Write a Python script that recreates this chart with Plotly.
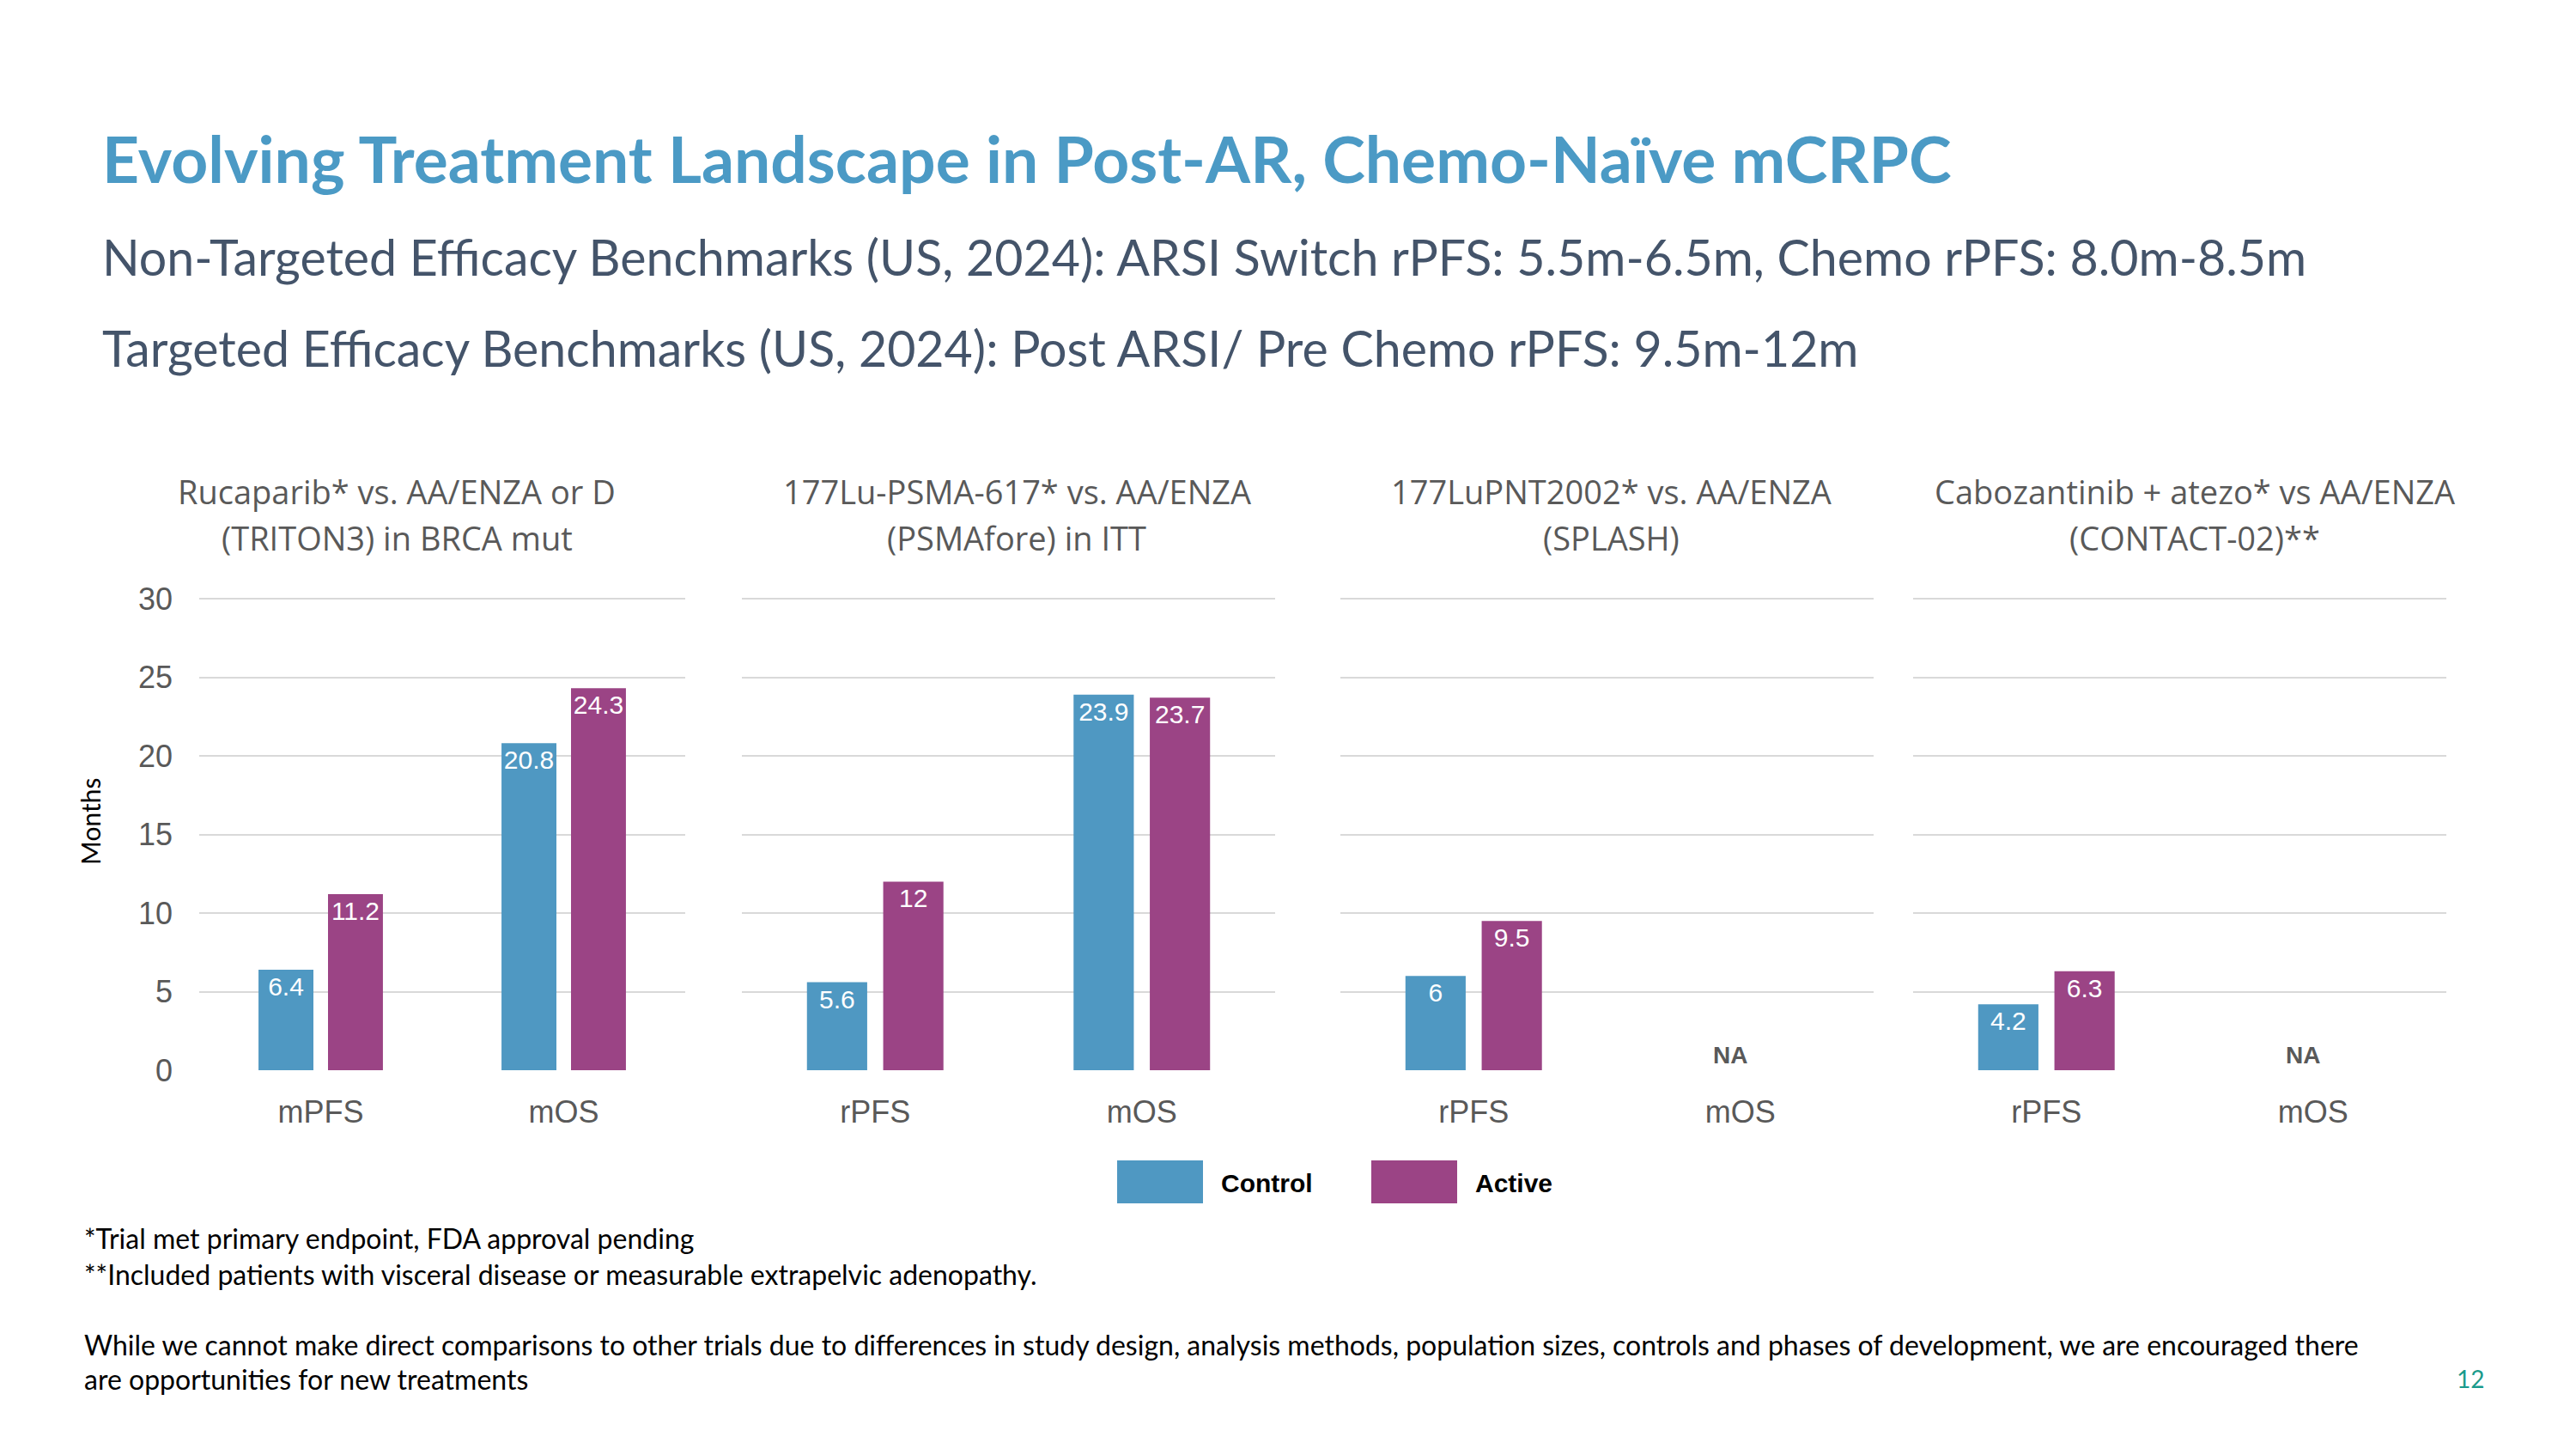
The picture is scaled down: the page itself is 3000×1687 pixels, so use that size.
import plotly.graph_objects as go

W, H = 3000, 1687

# ---------------- data ----------------
categories = [["mPFS", "mOS"], ["rPFS", "mOS"], ["rPFS", "mOS"], ["rPFS", "mOS"]]
control_values = [[6.4, 20.8], [5.6, 23.9], [6, None], [4.2, None]]
active_values = [[11.2, 24.3], [12, 23.7], [9.5, None], [6.3, None]]
panel_titles = [
    ("Rucaparib* vs. AA/ENZA or D", "(TRITON3) in BRCA mut"),
    ("177Lu-PSMA-617* vs. AA/ENZA", "(PSMAfore) in ITT"),
    ("177LuPNT2002* vs. AA/ENZA", "(SPLASH)"),
    ("Cabozantinib + atezo* vs AA/ENZA", "(CONTACT-02)**"),
]
series_names = ["Control", "Active"]
y_ticks = [0, 5, 10, 15, 20, 25, 30]
missing_label = "NA"

title = "Evolving Treatment Landscape in Post-AR, Chemo-Naïve mCRPC"
subtitle1 = "Non-Targeted Efficacy Benchmarks (US, 2024): ARSI Switch rPFS: 5.5m-6.5m, Chemo rPFS: 8.0m-8.5m"
subtitle2 = "Targeted Efficacy Benchmarks (US, 2024): Post ARSI/ Pre Chemo rPFS: 9.5m-12m"
footnotes = [
    "*Trial met primary endpoint, FDA approval pending",
    "**Included patients with visceral disease or measurable extrapelvic adenopathy.",
]
disclaimer = [
    "While we cannot make direct comparisons to other trials due to differences in study design, analysis methods, population sizes, controls and phases of development, we are encouraged there",
    "are opportunities for new treatments",
]
page_number = "12"

# ---------------- style ----------------
BLUE = "#4F98C2"
PURPLE = "#9B4485"
GRID = "#D9D9D9"
GRAY = "#595959"
TITLE_BLUE = "#4B9AC5"
SLATE = "#44546A"
TEAL = "#1A9A8C"
ARIAL = "Liberation Sans, Arial, sans-serif"
CALIBRI = "Lato, Carlito, Calibri, sans-serif"
SEGOE = "Open Sans, Segoe UI, sans-serif"


def px(x):
    return x / W


def py(y):
    return 1 - y / H


panel_x = [(232, 798), (864, 1485), (1561, 2182), (2228, 2849)]
title_cx = [462, 1184, 1876, 2556]
Y_TOP_VAL = 30.1
y0_px, y30_px = 1246, 697
ytop_px = y0_px - Y_TOP_VAL * (y0_px - y30_px) / 30
y_dom = [py(y0_px), py(ytop_px)]


def fmt(v):
    return "" if v is None else f"{v:g}"


fig = go.Figure()
annotations = []
layout_axes = {}

for i in range(4):
    sfx = "" if i == 0 else str(i + 1)
    xa, ya = "x" + sfx, "y" + sfx
    for name, vals, col in [(series_names[0], control_values[i], BLUE),
                            (series_names[1], active_values[i], PURPLE)]:
        fig.add_trace(go.Bar(
            x=categories[i], y=vals, name=name, xaxis=xa, yaxis=ya,
            marker=dict(color=col, line=dict(width=0)),
            text=[fmt(v) for v in vals], textposition="inside", textangle=0,
            insidetextanchor="end", constraintext="none",
            textfont=dict(family=ARIAL, size=30, color="white"),
            showlegend=False, hoverinfo="skip",
        ))
    layout_axes["xaxis" + sfx] = dict(
        domain=[px(panel_x[i][0]), px(panel_x[i][1])], anchor=ya,
        type="category", showgrid=False, showline=False, zeroline=False,
        ticks="", ticklabelstandoff=24, automargin=False,
        tickfont=dict(family=ARIAL, size=36, color=GRAY),
    )
    layout_axes["yaxis" + sfx] = dict(
        domain=y_dom, anchor=xa, range=[0, Y_TOP_VAL], tickvals=y_ticks,
        showgrid=True, gridcolor=GRID, gridwidth=2, zeroline=False,
        showline=False, ticks="", showticklabels=(i == 0),
        ticklabelstandoff=30, automargin=False,
        tickfont=dict(family=ARIAL, size=36, color=GRAY),
    )
    # panel titles
    for line, yy in zip(panel_titles[i], (572, 626)):
        annotations.append(dict(
            text=line, x=px(title_cx[i]), y=py(yy), xref="paper", yref="paper",
            xanchor="center", yanchor="middle", showarrow=False,
            font=dict(family=SEGOE, size=38, color=GRAY)))
    # NA labels for missing data
    for cat, c, a in zip(categories[i], control_values[i], active_values[i]):
        if c is None and a is None:
            annotations.append(dict(
                text="<b>" + missing_label + "</b>", x=cat, y=0, xref=xa, yref=ya,
                xanchor="center", yanchor="bottom", xshift=-12, yshift=0,
                showarrow=False, font=dict(family=ARIAL, size=28, color=GRAY)))

# axis title
annotations.append(dict(text="Months", x=px(105), y=py(957), xref="paper", yref="paper",
                        textangle=-90, showarrow=False, xanchor="center", yanchor="middle",
                        font=dict(family=CALIBRI, size=30, color="black")))

# headings
annotations.append(dict(text="<b>" + title + "</b>", x=px(117), y=py(184), xref="paper", yref="paper",
                        xanchor="left", yanchor="middle", showarrow=False,
                        font=dict(family=CALIBRI, size=75, color=TITLE_BLUE)))
annotations.append(dict(text=subtitle1, x=px(117), y=py(298), xref="paper", yref="paper",
                        xanchor="left", yanchor="middle", showarrow=False,
                        font=dict(family=CALIBRI, size=57.3, color=SLATE)))
annotations.append(dict(text=subtitle2, x=px(117), y=py(404), xref="paper", yref="paper",
                        xanchor="left", yanchor="middle", showarrow=False,
                        font=dict(family=CALIBRI, size=57.3, color=SLATE)))

# footnotes
for line, yy in zip(footnotes + disclaimer, (1441, 1483, 1565, 1605)):
    annotations.append(dict(text=line, x=px(96), y=py(yy), xref="paper", yref="paper",
                            xanchor="left", yanchor="middle", showarrow=False,
                            font=dict(family=CALIBRI, size=32, color="black")))

annotations.append(dict(text=page_number, x=px(2877), y=py(1605), xref="paper", yref="paper",
                        xanchor="center", yanchor="middle", showarrow=False,
                        font=dict(family=CALIBRI, size=28, color=TEAL)))

# custom legend
shapes = []
for name, col, x0, tx in [(series_names[0], BLUE, 1301, 1420), (series_names[1], PURPLE, 1597, 1716)]:
    shapes.append(dict(type="rect", xref="paper", yref="paper",
                       x0=px(x0), x1=px(x0 + 100), y0=py(1401), y1=py(1351),
                       fillcolor=col, line=dict(width=0)))
    annotations.append(dict(text="<b>" + name + "</b>", x=px(tx), y=py(1377), xref="paper", yref="paper",
                            xanchor="left", yanchor="middle", showarrow=False,
                            font=dict(family=ARIAL, size=30, color="black")))

fig.update_layout(
    template="none",
    width=W, height=H, margin=dict(l=0, r=0, t=0, b=0, pad=0, autoexpand=False),
    paper_bgcolor="white", plot_bgcolor="white",
    barmode="group", bargap=0.428, bargroupgap=0.21,
    showlegend=False, annotations=annotations, shapes=shapes,
    **layout_axes,
)

fig.write_html("out.html")
